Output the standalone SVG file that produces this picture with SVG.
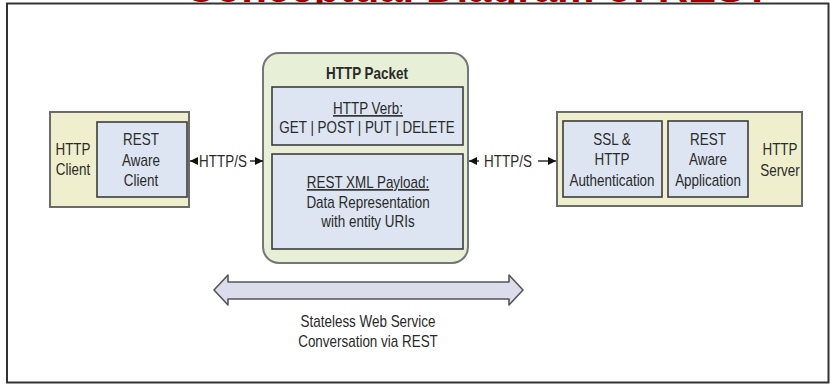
<svg xmlns="http://www.w3.org/2000/svg" width="831" height="385" viewBox="0 0 831 385">
  <style>
    .t { font-family: "Liberation Sans", Arial, sans-serif; font-size: 16px; fill: #2a2a2a; text-anchor: middle; }
    .b { font-weight: bold; }
    .u { text-decoration: underline; }
    .outer { fill: #efefce; stroke: #6b6b6b; stroke-width: 2; }
    .inner { fill: #dce5f1; stroke: #3c3c3c; stroke-width: 1.6; }
    .packet { fill: #e7efd7; stroke: #767676; stroke-width: 2; }
    .conn { stroke: #111; stroke-width: 1.3; fill: none; }
  </style>
  <defs>
    <marker id="ah" viewBox="0 0 8 8" refX="8" refY="4" markerWidth="8" markerHeight="8" markerUnits="userSpaceOnUse" orient="auto-start-reverse">
      <path d="M0,0 L8,4 L0,8 z" fill="#111"/>
    </marker>
  </defs>

  <rect width="831" height="385" fill="#ffffff"/>

  <!-- heading, only its lowest edge shows above the frame -->
  <text x="185" y="2" font-family="Liberation Sans, Arial, sans-serif" font-size="40" font-weight="bold" fill="#a00000" textLength="585" lengthAdjust="spacingAndGlyphs">Conceptual Diagram of REST</text>
  <rect x="0" y="3" width="831" height="20" fill="#ffffff"/>

  <!-- frame -->
  <rect x="7" y="3.5" width="821.5" height="379" fill="none" stroke="#333" stroke-width="2"/>

  <!-- HTTP client -->
  <g id="http-client">
    <rect class="outer" x="50" y="112" width="139" height="95"/>
    <text class="t" transform="translate(73,155) scale(0.84,1)">HTTP</text>
    <text class="t" transform="translate(73,175) scale(0.84,1)">Client</text>
  </g>
  <g id="rest-aware-client">
    <rect class="inner" x="97" y="122" width="90" height="75"/>
    <text class="t" transform="translate(141,145) scale(0.84,1)">REST</text>
    <text class="t" transform="translate(141,165.5) scale(0.84,1)">Aware</text>
    <text class="t" transform="translate(141,186) scale(0.84,1)">Client</text>
  </g>

  <!-- HTTP packet -->
  <g id="http-packet">
    <rect class="packet" x="263" y="53" width="205" height="210" rx="16" ry="16"/>
    <text class="t b" transform="translate(367,79) scale(0.84,1)">HTTP Packet</text>
  </g>
  <g id="http-verb">
    <rect class="inner" x="272" y="87" width="191" height="58"/>
    <text class="t u" transform="translate(368,114) scale(0.84,1)">HTTP Verb:</text>
    <text class="t" transform="translate(367,133) scale(0.84,1)">GET | POST | PUT | DELETE</text>
  </g>
  <g id="rest-payload">
    <rect class="inner" x="272" y="154" width="191" height="95"/>
    <text class="t u" transform="translate(368,188) scale(0.84,1)">REST XML Payload:</text>
    <text class="t" transform="translate(368,208) scale(0.84,1)">Data Representation</text>
    <text class="t" transform="translate(368,227) scale(0.84,1)">with entity URIs</text>
  </g>

  <!-- HTTP server -->
  <g id="http-server">
    <rect class="outer" x="557" y="112" width="245" height="94"/>
    <text class="t" transform="translate(780,155) scale(0.84,1)">HTTP</text>
    <text class="t" transform="translate(780,176) scale(0.84,1)">Server</text>
  </g>
  <g id="ssl-auth">
    <rect class="inner" x="563" y="121" width="99" height="76"/>
    <text class="t" transform="translate(612,145) scale(0.84,1)">SSL &amp;</text>
    <text class="t" transform="translate(612,165) scale(0.84,1)">HTTP</text>
    <text class="t" transform="translate(612,186) scale(0.84,1)">Authentication</text>
  </g>
  <g id="rest-aware-app">
    <rect class="inner" x="668" y="121" width="80" height="76"/>
    <text class="t" transform="translate(708,145) scale(0.84,1)">REST</text>
    <text class="t" transform="translate(708,165) scale(0.84,1)">Aware</text>
    <text class="t" transform="translate(708,186) scale(0.84,1)">Application</text>
  </g>

  <!-- connectors -->
  <g id="connectors">
    <line class="conn" x1="197" y1="161" x2="190" y2="161" marker-end="url(#ah)"/>
    <line class="conn" x1="250" y1="161" x2="263" y2="161" marker-end="url(#ah)"/>
    <text class="t" transform="translate(223,167) scale(0.84,1)">HTTP/S</text>

    <line class="conn" x1="479" y1="161" x2="469" y2="161" marker-end="url(#ah)"/>
    <line class="conn" x1="538" y1="161" x2="556" y2="161" marker-end="url(#ah)"/>
    <text class="t" transform="translate(508,167) scale(0.84,1)">HTTP/S</text>
  </g>

  <!-- stateless conversation arrow -->
  <g id="conversation">
    <path d="M214,290 L228,275 L228,282 L509,282 L509,275 L523,290 L509,305 L509,299 L228,299 L228,305 Z" fill="#dcdcec" stroke="#555" stroke-width="1.6" stroke-linejoin="round"/>
    <text class="t" transform="translate(368,327) scale(0.84,1)">Stateless Web Service</text>
    <text class="t" transform="translate(368,347) scale(0.84,1)">Conversation via REST</text>
  </g>
</svg>
